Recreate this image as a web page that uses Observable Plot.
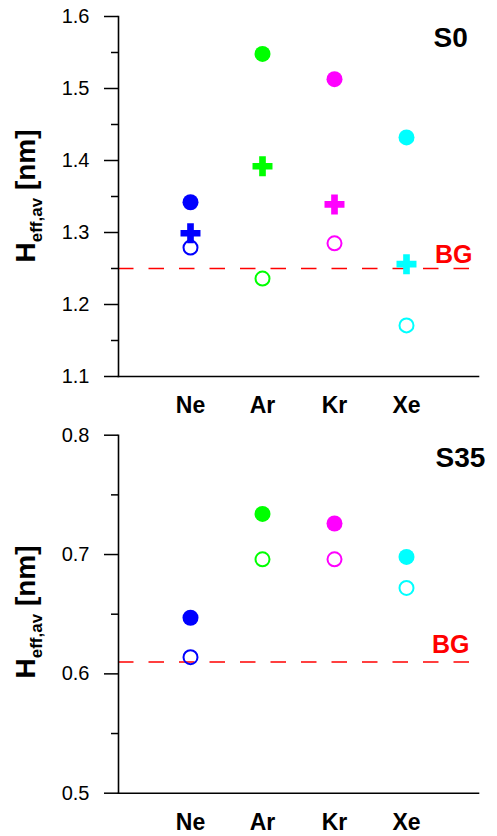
<!DOCTYPE html>
<html><head><meta charset="utf-8">
<script src="https://cdn.jsdelivr.net/npm/d3@7"></script>
<script src="https://cdn.jsdelivr.net/npm/@observablehq/plot@0.6"></script>
<style>
body{margin:0;background:#fff;}
#chart{width:497px;}
svg{display:block;}
</style></head><body><div id="chart"></div>
<script>
const gases = ["Ne", "Ar", "Kr", "Xe"];
const gasColors = ["#0000ff", "#00ff00", "#ff00ff", "#00ffff"];

// Panel S0
const s0Filled = [1.342, 1.548, 1.513, 1.432];
const s0Cross  = [1.299, 1.392, 1.339, 1.256];
const s0Open   = [1.279, 1.236, 1.285, 1.171];
const s0BG = [1.25];
const s0Ticks = [1.1, 1.2, 1.3, 1.4, 1.5, 1.6];
const s0Minor = [1.15, 1.25, 1.35, 1.45, 1.55];

// Panel S35
const s35Filled = [0.647, 0.734, 0.726, 0.698];
const s35Open   = [0.614, 0.696, 0.696, 0.672];
const s35BG = [0.61];
const s35Ticks = [0.5, 0.6, 0.7, 0.8];
const s35Minor = [0.55, 0.65, 0.75];

const FONT = "'Liberation Sans', Arial, sans-serif";

function panel({title, filled, cross, open, bg, ticks, minor, marginTop, marginBottom, titleDx, titleDy, bgDx, bgDy, labelCy}) {
  const marks = [
    Plot.ruleY(bg, {y: d => d, stroke: "#ff0000", strokeWidth: 1.6, strokeDasharray: "15.5,15"}),
    Plot.frame({anchor: "left", stroke: "#000", strokeWidth: 1.6}),
    Plot.frame({anchor: "bottom", stroke: "#000", strokeWidth: 1.6}),
    Plot.axisY(ticks, {tickSize: 14, tickPadding: 15, fontSize: 20, strokeWidth: 1.5, tickFormat: d => d.toFixed(1), label: null}),
    Plot.axisY(minor, {tickSize: 7, strokeWidth: 1.5, tickFormat: () => "", label: null}),
    Plot.axisX(gases, {tickSize: 0, tickPadding: 20, fontSize: 23, fontWeight: "bold", label: null}),
    Plot.dot(gases, {x: d => d, y: (d, i) => filled[i], fill: d => d, r: 8}),
  ];
  if (cross) marks.push(Plot.dot(gases, {x: d => d, y: (d, i) => cross[i], fill: d => d, symbol: "cross", r: 8.4}));
  marks.push(Plot.dot(gases, {x: d => d, y: (d, i) => open[i], stroke: d => d, fill: "none", strokeWidth: 2, r: 7}));
  marks.push(Plot.text(bg, {y: d => d, text: () => "BG", frameAnchor: "right", textAnchor: "end", lineAnchor: "bottom", dx: bgDx, dy: bgDy, fill: "#ff0000", fontSize: 25, fontWeight: "bold"}));
  marks.push(Plot.text([title], {text: d => d, frameAnchor: "top-right", textAnchor: "start", lineAnchor: "bottom", dx: titleDx, dy: titleDy, fill: "#000", fontSize: 28, fontWeight: "bold"}));

  const svg = Plot.plot({
    width: 497, height: 418,
    marginLeft: 118, marginRight: 19, marginTop, marginBottom,
    style: {fontFamily: FONT, color: "#000", background: "#fff", overflow: "visible"},
    x: {type: "point", domain: gases, padding: 1, axis: null},
    y: {domain: [ticks[0], ticks[ticks.length - 1]], axis: null, label: null},
    color: {domain: gases, range: gasColors},
    marks
  });

  const lab = d3.select(svg).append("text")
    .attr("transform", `translate(35,${labelCy}) rotate(-90)`)
    .attr("text-anchor", "middle")
    .attr("font-family", FONT)
    .attr("font-size", 28)
    .attr("font-weight", "bold")
    .attr("fill", "#000");
  lab.append("tspan").text("H");
  lab.append("tspan").attr("dy", 7).attr("font-size", 17).text("eff,av");
  lab.append("tspan").attr("dy", -7).text(" [nm]");
  return svg;
}

const chart = document.getElementById("chart");
chart.appendChild(panel({
  title: "S0", filled: s0Filled, cross: s0Cross, open: s0Open, bg: s0BG,
  ticks: s0Ticks, minor: s0Minor, marginTop: 16, marginBottom: 42,
  titleDx: -45, titleDy: 30.7, bgDx: -6, bgDy: -5.7, labelCy: 196
}));
chart.appendChild(panel({
  title: "S35", filled: s35Filled, cross: null, open: s35Open, bg: s35BG,
  ticks: s35Ticks, minor: s35Minor, marginTop: 16.7, marginBottom: 43.3,
  titleDx: -43, titleDy: 32, bgDx: -9, bgDy: -8.7, labelCy: 194
}));
</script></body></html>
